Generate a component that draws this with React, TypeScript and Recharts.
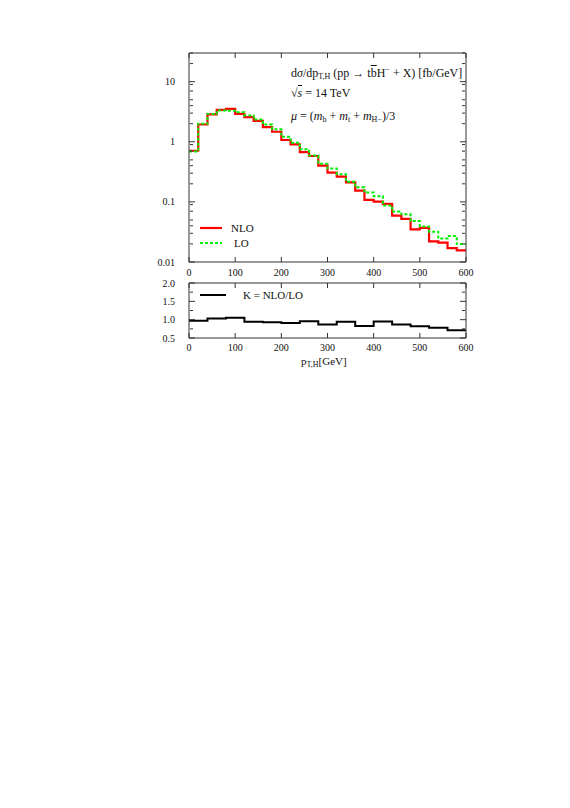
import React from 'react';
import { LineChart, Line, XAxis, YAxis } from 'recharts';

const FONT = '"Liberation Serif", "DejaVu Serif", serif';

// pT,H bin edges [GeV], 20 GeV bins
const binEdges = [0, 20, 40, 60, 80, 100, 120, 140, 160, 180, 200, 220, 240, 260, 280, 300,
  320, 340, 360, 380, 400, 420, 440, 460, 480, 500, 520, 540, 560, 580, 600];

// dσ/dpT [fb/GeV]
const nloValues = [0.71, 1.94, 2.85, 3.4, 3.52, 2.91, 2.57, 2.23, 1.75, 1.47, 1.07, 0.905, 0.675,
  0.58, 0.40, 0.306, 0.263, 0.212, 0.154, 0.108, 0.101, 0.093, 0.059, 0.052, 0.035, 0.037,
  0.022, 0.021, 0.017, 0.0156];
const loValues = [0.69, 1.99, 2.91, 3.3, 3.27, 3.11, 2.74, 2.35, 1.94, 1.61, 1.21, 0.96, 0.75,
  0.59, 0.43, 0.36, 0.288, 0.217, 0.175, 0.143, 0.124, 0.087, 0.069, 0.062, 0.048, 0.039,
  0.032, 0.0246, 0.027, 0.0199];

// K factor, 40 GeV bins
const kEdges = [0, 40, 80, 120, 160, 200, 240, 280, 320, 360, 400, 440, 480, 520, 560, 600];
const kValues = [0.97, 1.03, 1.05, 0.94, 0.93, 0.91, 0.96, 0.87, 0.94, 0.83, 0.95, 0.87, 0.82,
  0.78, 0.71];

const xTicks = [0, 100, 200, 300, 400, 500, 600];
const logTicks = [0.01, 0.1, 1, 10];
const logMinorTicks = [0.02, 0.03, 0.04, 0.05, 0.06, 0.07, 0.08, 0.09, 0.2, 0.3, 0.4, 0.5, 0.6,
  0.7, 0.8, 0.9, 2, 3, 4, 5, 6, 7, 8, 9, 20, 30];
const kTicks = [0.5, 1.0, 1.5, 2.0];
const kMinorTicks = [0.75, 1.25, 1.75];

// step data: last edge repeats last bin value
const spectrum = binEdges.map((x, i) => ({
  x,
  nlo: nloValues[Math.min(i, nloValues.length - 1)],
  lo: loValues[Math.min(i, loValues.length - 1)],
}));
const kData = kEdges.map((x, i) => ({ x, k: kValues[Math.min(i, kValues.length - 1)] }));

const tickFont = { fontSize: 10, fill: '#111', fontFamily: FONT };
const frame = { stroke: '#333', strokeWidth: 1 };
const blank = () => '';
const sub = { fontSize: 8, verticalAlign: -2, lineHeight: 1 } as const;
const textBase = { position: 'absolute', fontFamily: FONT, fontSize: 12, color: '#111', whiteSpace: 'nowrap', lineHeight: '14px' } as const;

const App: React.FC = () => {
  return (
    <div style={{ position: 'absolute', left: 0, top: 0, width: 570, height: 808, background: '#fff' }}>
      {/* upper panel */}
      <div style={{ position: 'absolute', left: 0, top: 0 }}>
        <LineChart width={570} height={290} data={spectrum}
          margin={{ top: 53, right: 104, left: 149, bottom: 8 }}>
          <XAxis dataKey="x" type="number" domain={[0, 600]} ticks={xTicks} allowDataOverflow
            tickLine={false} axisLine={false} height={20} tickMargin={1} tick={tickFont} />
          <XAxis xAxisId="xb" dataKey="x" type="number" domain={[0, 600]} ticks={xTicks} allowDataOverflow
            orientation="bottom" mirror height={1} tickSize={5} axisLine={frame} tickLine={frame} tickFormatter={blank} />
          <XAxis xAxisId="xt" dataKey="x" type="number" domain={[0, 600]} ticks={xTicks} allowDataOverflow
            orientation="top" mirror height={1} tickSize={5} axisLine={frame} tickLine={frame} tickFormatter={blank} />
          <YAxis yAxisId="y" type="number" scale="log" domain={[0.01, 30]} allowDataOverflow ticks={logTicks}
            width={40} tickLine={false} axisLine={false} tickMargin={8} tick={tickFont}
            tickFormatter={(v: number) => String(v)} />
          <YAxis yAxisId="yl" type="number" scale="log" domain={[0.01, 30]} allowDataOverflow ticks={logTicks}
            orientation="left" mirror width={1} tickSize={6} axisLine={frame} tickLine={frame} tickFormatter={blank} />
          <YAxis yAxisId="ylm" type="number" scale="log" domain={[0.01, 30]} allowDataOverflow ticks={logMinorTicks}
            orientation="left" mirror width={1} tickSize={3} axisLine={false} tickLine={frame} tickFormatter={blank} />
          <YAxis yAxisId="yr" type="number" scale="log" domain={[0.01, 30]} allowDataOverflow ticks={logTicks}
            orientation="right" mirror width={1} tickSize={6} axisLine={frame} tickLine={frame} tickFormatter={blank} />
          <YAxis yAxisId="yrm" type="number" scale="log" domain={[0.01, 30]} allowDataOverflow ticks={logMinorTicks}
            orientation="right" mirror width={1} tickSize={3} axisLine={false} tickLine={frame} tickFormatter={blank} />
          <Line yAxisId="y" type="stepAfter" dataKey="nlo" stroke="#ff0000" strokeWidth={2.2}
            dot={false} isAnimationActive={false} />
          <Line yAxisId="y" type="stepAfter" dataKey="lo" stroke="#00ee00" strokeWidth={2}
            strokeDasharray="3 2" dot={false} isAnimationActive={false} />
        </LineChart>
      </div>

      {/* lower panel */}
      <div style={{ position: 'absolute', left: 0, top: 260 }}>
        <LineChart width={570} height={110} data={kData}
          margin={{ top: 23, right: 104, left: 149, bottom: 12 }}>
          <XAxis dataKey="x" type="number" domain={[0, 600]} ticks={xTicks} allowDataOverflow
            tickLine={false} axisLine={false} height={20} tickMargin={0} tick={tickFont} />
          <XAxis xAxisId="xb" dataKey="x" type="number" domain={[0, 600]} ticks={xTicks} allowDataOverflow
            orientation="bottom" mirror height={1} tickSize={5} axisLine={frame} tickLine={frame} tickFormatter={blank} />
          <XAxis xAxisId="xt" dataKey="x" type="number" domain={[0, 600]} ticks={xTicks} allowDataOverflow
            orientation="top" mirror height={1} tickSize={5} axisLine={frame} tickLine={frame} tickFormatter={blank} />
          <YAxis yAxisId="k" type="number" domain={[0.5, 2]} allowDataOverflow ticks={kTicks}
            width={40} tickLine={false} axisLine={false} tickMargin={8} tick={tickFont}
            tickFormatter={(v: number) => v.toFixed(1)} />
          <YAxis yAxisId="kl" type="number" domain={[0.5, 2]} allowDataOverflow ticks={kTicks}
            orientation="left" mirror width={1} tickSize={6} axisLine={frame} tickLine={frame} tickFormatter={blank} />
          <YAxis yAxisId="klm" type="number" domain={[0.5, 2]} allowDataOverflow ticks={kMinorTicks}
            orientation="left" mirror width={1} tickSize={3} axisLine={false} tickLine={frame} tickFormatter={blank} />
          <YAxis yAxisId="kr" type="number" domain={[0.5, 2]} allowDataOverflow ticks={kTicks}
            orientation="right" mirror width={1} tickSize={6} axisLine={frame} tickLine={frame} tickFormatter={blank} />
          <YAxis yAxisId="krm" type="number" domain={[0.5, 2]} allowDataOverflow ticks={kMinorTicks}
            orientation="right" mirror width={1} tickSize={3} axisLine={false} tickLine={frame} tickFormatter={blank} />
          <Line yAxisId="k" type="stepAfter" dataKey="k" stroke="#000" strokeWidth={2}
            dot={false} isAnimationActive={false} />
        </LineChart>
      </div>

      {/* annotations */}
      <div style={{ ...textBase, left: 291, top: 66 }}>
        d<i>σ</i>/dp<span style={sub}>T,H</span> (pp → t<span style={{ textDecoration: 'overline' }}>b</span>H<span style={{ fontSize: 8, verticalAlign: 5, lineHeight: 1 }}>−</span> + X) [fb/GeV]
      </div>
      <div style={{ ...textBase, left: 291, top: 86 }}>
        √<span style={{ borderTop: '1px solid #111' }}><i>s</i></span> = 14 TeV
      </div>
      <div style={{ ...textBase, left: 291, top: 109 }}>
        <i>μ</i> = (<i>m</i><span style={sub}>b</span> + <i>m</i><span style={sub}>t</span> + <i>m</i><span style={sub}>H−</span>)/3
      </div>

      {/* legends */}
      <div style={{ position: 'absolute', left: 200, top: 221, fontFamily: FONT, fontSize: 11, color: '#111' }}>
        <div style={{ display: 'flex', alignItems: 'center', height: 14 }}>
          <svg width={23} height={4}><line x1={0} y1={2} x2={22} y2={2} stroke="#ff0000" strokeWidth={2.2} /></svg>
          <span style={{ marginLeft: 8 }}>NLO</span>
        </div>
        <div style={{ display: 'flex', alignItems: 'center', height: 14, marginTop: 1 }}>
          <svg width={23} height={4}><line x1={0} y1={2} x2={22} y2={2} stroke="#00ee00" strokeWidth={2} strokeDasharray="3 2" /></svg>
          <span style={{ marginLeft: 11 }}>LO</span>
        </div>
      </div>
      <div style={{ position: 'absolute', left: 200, top: 288, fontFamily: FONT, fontSize: 11, color: '#111', display: 'flex', alignItems: 'center', height: 14 }}>
        <svg width={27} height={4}><line x1={0} y1={2} x2={26} y2={2} stroke="#000" strokeWidth={2} /></svg>
        <span style={{ marginLeft: 16 }}>K = NLO/LO</span>
      </div>

      {/* x-axis title */}
      <div style={{ ...textBase, fontSize: 11, left: 301, top: 354 }}>
        p<span style={sub}>T,H</span>[GeV]
      </div>
    </div>
  );
};

export default App;
